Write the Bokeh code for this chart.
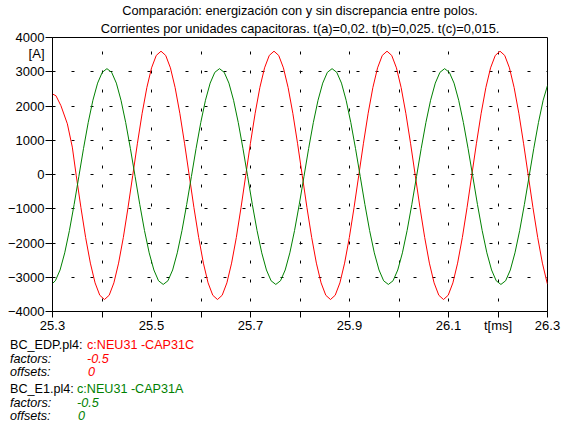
from bokeh.plotting import figure
from bokeh.models import Range1d, FixedTicker, LinearAxis, Grid, Title, Div
from bokeh.layouts import column
from bokeh.embed import file_html
from bokeh.resources import INLINE

# ---------------- data ----------------
x_ticks = [25.3, 25.4, 25.5, 25.6, 25.7, 25.8, 25.9, 26.0, 26.1, 26.2, 26.3]
x_tick_labels = {25.4: "", 25.6: "", 25.8: "", 26.0: "", 26.2: "t[ms]"}
y_ticks = [-4000, -3000, -2000, -1000, 0, 1000, 2000, 3000, 4000]
y_unit = "[A]"
y_unit_at = 3540          # where the unit text sits beside the axis

title_lines = ["Comparación: energización con y sin discrepancia entre polos.",
               "Corrientes por unidades capacitoras. t(a)=0,02. t(b)=0,025. t(c)=0,015."]

red_name = ["BC_EDP.pl4:", "c:NEU31 -CAP31C", "-0.5", "0"]
green_name = ["BC_E1.pl4:", "c:NEU31 -CAP31A", "-0.5", "0"]

red_t = [
    25.3000, 25.3070, 25.3170, 25.3300, 25.3400,
    25.3479, 25.3574, 25.3669, 25.3765, 25.3860, 25.3955,
    25.4050, 25.4145, 25.4240, 25.4335, 25.4431, 25.4526, 25.4621, 25.4716, 25.4811, 25.4906, 25.5001, 25.5096,
    25.5192, 25.5287, 25.5382, 25.5477, 25.5572, 25.5667, 25.5762, 25.5857, 25.5953, 25.6048, 25.6143, 25.6238,
    25.6333, 25.6428, 25.6523, 25.6618, 25.6714, 25.6809, 25.6904, 25.6999, 25.7094, 25.7189, 25.7284, 25.7379,
    25.7475, 25.7570, 25.7665, 25.7760, 25.7855, 25.7950, 25.8045, 25.8140, 25.8236, 25.8331, 25.8426, 25.8521,
    25.8616, 25.8711, 25.8806, 25.8901, 25.8997, 25.9092, 25.9187, 25.9282, 25.9377, 25.9472, 25.9567, 25.9662,
    25.9758, 25.9853, 25.9948, 26.0043, 26.0138, 26.0233, 26.0328, 26.0423, 26.0519, 26.0614, 26.0709, 26.0804,
    26.0899, 26.0994, 26.1089, 26.1184, 26.1280, 26.1375, 26.1470, 26.1565, 26.1660, 26.1755, 26.1850, 26.1945,
    26.2041, 26.2136, 26.2231, 26.2326, 26.2421, 26.2516, 26.2611, 26.2706, 26.2802, 26.2897, 26.2992, 26.3000,
]
red_v = [
    2350, 2300, 2010, 1480, 800,
    -25, -963, -1838, -2588, -3164, -3526,
    -3650, -3526, -3164, -2588, -1838, -963, -25, 913, 1788, 2538, 3114, 3476,
    3600, 3476, 3114, 2538, 1788, 913, -25, -963, -1838, -2588, -3164, -3526,
    -3650, -3526, -3164, -2588, -1838, -963, -25, 913, 1788, 2538, 3114, 3476,
    3600, 3476, 3114, 2538, 1788, 913, -25, -963, -1838, -2588, -3164, -3526,
    -3650, -3526, -3164, -2588, -1838, -963, -25, 913, 1788, 2538, 3114, 3476,
    3600, 3476, 3114, 2538, 1788, 913, -25, -963, -1838, -2588, -3164, -3526,
    -3650, -3526, -3164, -2588, -1838, -963, -25, 913, 1788, 2538, 3114, 3476,
    3600, 3476, 3114, 2538, 1788, 913, -25, -963, -1838, -2588, -3164, -3200,
]

green_t = [
    25.3000, 25.3058, 25.3153, 25.3247, 25.3342, 25.3437, 25.3532, 25.3626, 25.3721, 25.3816, 25.3911, 25.4005,
    25.4100, 25.4195, 25.4290, 25.4384, 25.4479, 25.4574, 25.4669, 25.4763, 25.4858, 25.4953, 25.5048, 25.5142,
    25.5237, 25.5332, 25.5427, 25.5521, 25.5616, 25.5711, 25.5806, 25.5900, 25.5995, 25.6090, 25.6185, 25.6279,
    25.6374, 25.6469, 25.6564, 25.6658, 25.6753, 25.6848, 25.6943, 25.7037, 25.7132, 25.7227, 25.7322, 25.7416,
    25.7511, 25.7606, 25.7701, 25.7795, 25.7890, 25.7985, 25.8080, 25.8174, 25.8269, 25.8364, 25.8459, 25.8553,
    25.8648, 25.8743, 25.8838, 25.8932, 25.9027, 25.9122, 25.9217, 25.9311, 25.9406, 25.9501, 25.9596, 25.9690,
    25.9785, 25.9880, 25.9975, 26.0069, 26.0164, 26.0259, 26.0354, 26.0448, 26.0543, 26.0638, 26.0733, 26.0827,
    26.0922, 26.1017, 26.1112, 26.1206, 26.1301, 26.1396, 26.1491, 26.1585, 26.1680, 26.1775, 26.1870, 26.1964,
    26.2059, 26.2154, 26.2249, 26.2343, 26.2438, 26.2533, 26.2628, 26.2722, 26.2817, 26.2912, 26.3000,
]
green_v = [
    -3180, -3103, -2788, -2287, -1635, -875, -60, 755, 1515, 2167, 2668, 2983,
    3090, 2983, 2668, 2167, 1515, 755, -60, -875, -1635, -2287, -2788, -3103,
    -3210, -3103, -2788, -2287, -1635, -875, -60, 755, 1515, 2167, 2668, 2983,
    3090, 2983, 2668, 2167, 1515, 755, -60, -875, -1635, -2287, -2788, -3103,
    -3210, -3103, -2788, -2287, -1635, -875, -60, 755, 1515, 2167, 2668, 2983,
    3090, 2983, 2668, 2167, 1515, 755, -60, -875, -1635, -2287, -2788, -3103,
    -3210, -3103, -2788, -2287, -1635, -875, -60, 755, 1515, 2167, 2668, 2983,
    3090, 2983, 2668, 2167, 1515, 755, -60, -875, -1635, -2287, -2788, -3103,
    -3210, -3103, -2788, -2287, -1635, -875, -60, 755, 1515, 2167, 2600,
]

# ---------------- styling ----------------
FONT = "Liberation Sans"
RED = "#FF0000"
GREEN = "#008000"
W = 563
MAIN_H = 335
LEG_H = 423 - MAIN_H

p = figure(width=W, height=MAIN_H,
           x_range=Range1d(25.3, 26.3), y_range=Range1d(-4000, 4000),
           output_backend="svg", toolbar_location=None,
           x_axis_type=None, y_axis_type=None,
           min_border_left=52, min_border_right=16,
           min_border_top=37, min_border_bottom=22)
p.background_fill_color = "white"
p.border_fill_color = "white"
p.outline_line_color = "black"
p.outline_line_width = 1

xb = LinearAxis(ticker=FixedTicker(ticks=x_ticks))
xb.major_label_overrides = x_tick_labels
yl = LinearAxis(ticker=FixedTicker(ticks=y_ticks + [y_unit_at], minor_ticks=y_ticks))
yl.major_label_overrides = {y_unit_at: y_unit}
for ax in (xb, yl):
    ax.axis_line_color = "black"
    ax.major_label_text_font = FONT
    ax.major_label_text_font_size = "13px"
    ax.major_label_text_color = "black"
xb.major_tick_line_color = "black"
xb.minor_tick_line_color = None
xb.major_tick_in = 0
xb.major_tick_out = 6
xb.major_label_standoff = 0
# y ticks are drawn as the minor ticks, so the unit text gets no tick mark
yl.major_tick_line_color = None
yl.major_tick_in = 0
yl.major_tick_out = 7
yl.minor_tick_line_color = "black"
yl.minor_tick_in = 0
yl.minor_tick_out = 7
yl.major_label_standoff = 1
p.add_layout(xb, "below")
p.add_layout(yl, "left")

gx = Grid(dimension=0, ticker=FixedTicker(ticks=x_ticks))
gy = Grid(dimension=1, ticker=FixedTicker(ticks=y_ticks))
for g in (gx, gy):
    g.grid_line_color = "black"
    g.grid_line_width = 1
    g.grid_line_dash = "3 16"
gx.grid_line_dash_offset = 9
p.add_layout(gx)
p.add_layout(gy)

p.line(red_t, red_v, line_color=RED, line_width=1)
p.line(green_t, green_v, line_color=GREEN, line_width=1)

# two title lines (the first one added sits next to the frame)
for txt, so in ((title_lines[1], 3), (title_lines[0], 0)):
    p.add_layout(Title(text=txt, align="center", text_font=FONT, text_font_size="12.8px",
                       text_font_style="normal", text_color="black", standoff=so,
                       text_line_height=1.1), "above")

# legend block under the chart
def span(left, baseline, text, color="black", italic=False):
    top = baseline - MAIN_H - 10.7
    style = ("position:absolute;left:%dpx;top:%.1fpx;color:%s;%s" %
             (left, top, color, "font-style:italic;" if italic else ""))
    return '<span style="%s">%s</span>' % (style, text)

parts = [
    span(10, 350, red_name[0]), span(87, 350, red_name[1], RED),
    span(10, 364, "factors:", italic=True), span(87, 364, red_name[2], RED, True),
    span(10, 377, "offsets:", italic=True), span(88, 377, red_name[3], RED, True),
    span(10, 394, green_name[0]), span(77, 394, green_name[1], GREEN),
    span(10, 408, "factors:", italic=True), span(77, 408, green_name[2], GREEN, True),
    span(10, 421, "offsets:", italic=True), span(78, 421, green_name[3], GREEN, True),
]
html = ('<div style="position:relative;width:%dpx;height:%dpx;margin:0;padding:0;'
        "font-family:'%s';font-size:12.6px;line-height:1;white-space:nowrap;"
        'background:white;">%s</div>' % (W, LEG_H, FONT, "".join(parts)))
leg = Div(text=html, width=W, height=LEG_H, margin=0,
          styles={"padding": "0", "margin": "0", "background": "white"})

layout = column(p, leg, spacing=0)
open("out.html", "w").write(file_html(layout, INLINE))
